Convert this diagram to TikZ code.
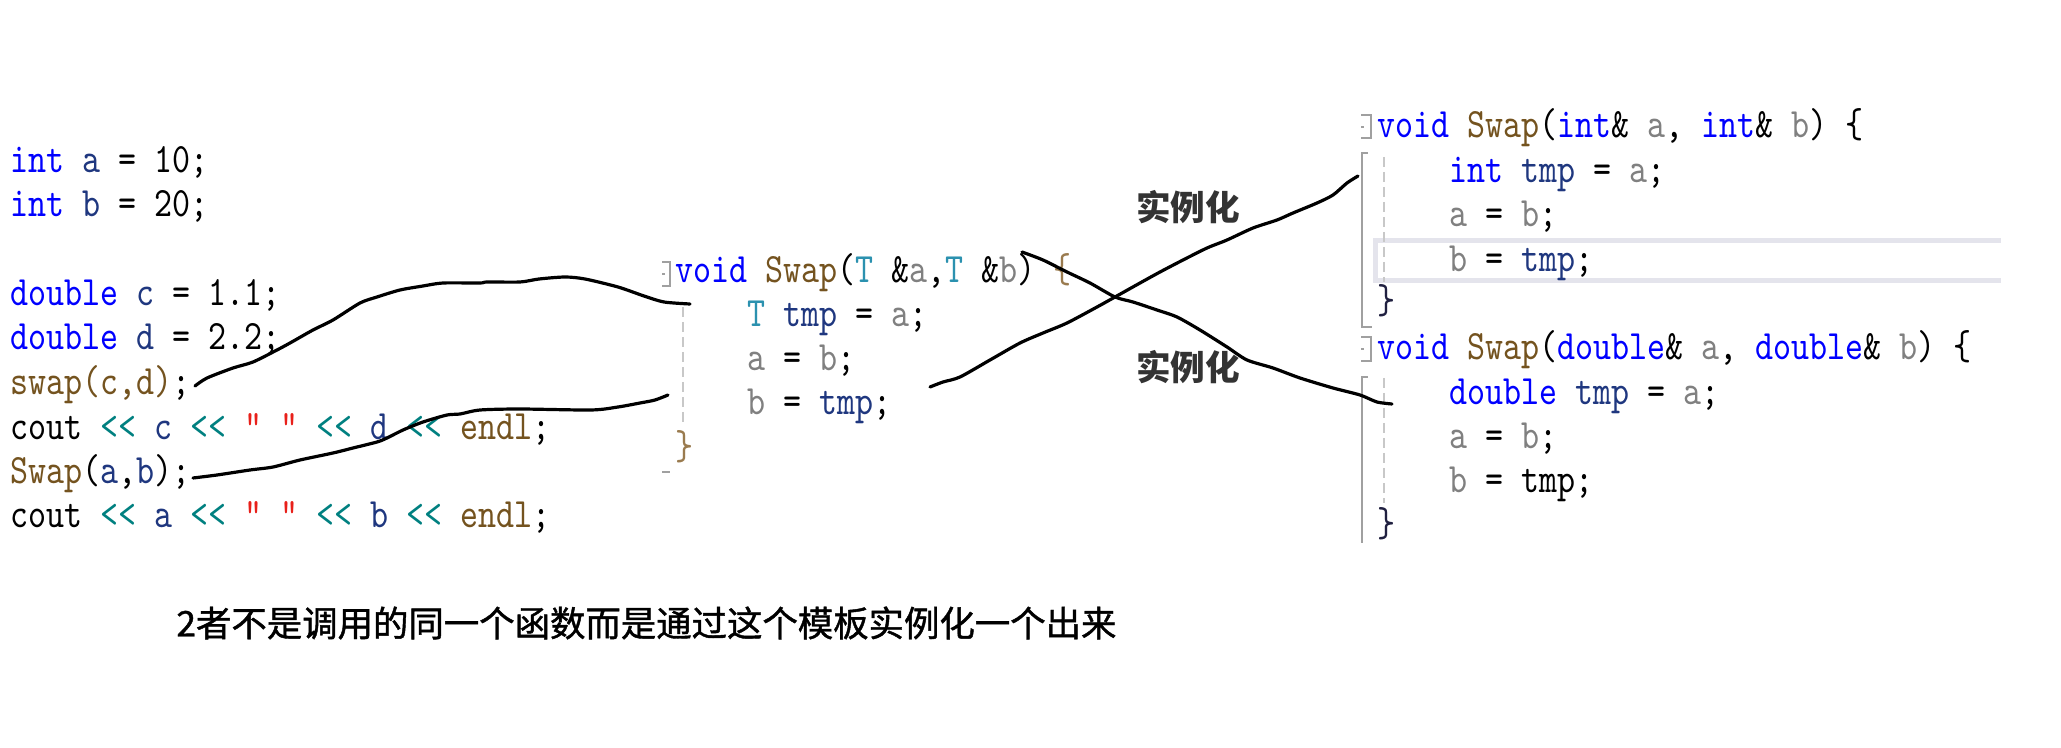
\documentclass[tikz,border=0pt]{standalone}
\usepackage{fontspec}
\newfontfamily\codefont{lmmono10-regular.otf}[FakeStretch=0.82]
\newfontfamily\cjkfont{Noto Sans CJK SC}
\newfontfamily\cjknote{Noto Sans CJK SC}[FakeBold=1.2]
\definecolor{kw}{HTML}{0000FF}
\definecolor{fn}{HTML}{74531F}
\definecolor{lv}{HTML}{1F377F}
\definecolor{pa}{HTML}{808080}
\definecolor{ty}{HTML}{2B91AF}
\definecolor{op}{HTML}{008080}
\definecolor{st}{HTML}{E8201A}
\definecolor{br}{HTML}{9A7B4F}
\definecolor{gut}{HTML}{A0A0A0}
\definecolor{guide}{HTML}{C8C8C8}
\definecolor{hl}{HTML}{E4E4EC}
\definecolor{lbl}{HTML}{333333}
\definecolor{cb}{HTML}{202040}
\newcommand{\ckw}[1]{\textcolor{kw}{#1}}
\newcommand{\cfn}[1]{\textcolor{fn}{#1}}
\newcommand{\clv}[1]{\textcolor{lv}{#1}}
\newcommand{\cpa}[1]{\textcolor{pa}{#1}}
\newcommand{\cty}[1]{\textcolor{ty}{#1}}
\newcommand{\cop}[1]{\textcolor{op}{#1}}
\newcommand{\cst}[1]{\textcolor{st}{#1}}
\newcommand{\cbr}[1]{\textcolor{br}{#1}}
\begin{document}
\begin{tikzpicture}[x=0.5pt,y=-0.5pt,
  code/.style={anchor=base west, inner sep=0pt, text=black,
    font={\codefont\fontsize{20.9pt}{24pt}\selectfont}},
  gutter/.style={draw=gut, line width=1pt},
  guideline/.style={draw=guide, line width=1pt, dash pattern=on 5pt off 2.5pt},
  stroke/.style={draw=black, line width=1.6pt, line cap=round, line join=round},
  inst/.style={inner sep=0pt, text=lbl, font={\cjkfont\bfseries\fontsize{17.3pt}{20pt}\selectfont}},
  note/.style={inner sep=0pt, anchor=west, text=black, font={\cjknote\fontsize{17.7pt}{20pt}\selectfont}}]
\useasboundingbox (0,0) rectangle (2061,748);

% ---------- left code ----------
\node[code] (l1) at (10,173) {\ckw{int} \clv{a} = 10;};
\node[code] (l2) at (10,217) {\ckw{int} \clv{b} = 20;};
\node[code] (l3) at (10,306) {\ckw{double} \clv{c} = 1.1;};
\node[code] (l4) at (10,350) {\ckw{double} \clv{d} = 2.2;};
\node[code] (l5) at (10,394) {\cfn{swap(c,d)};};
\node[code] (l6) at (10,439) {cout \cop{<{}<} \clv{c} \cop{<{}<} \cst{" "} \cop{<{}<} \clv{d} \cop{<{}<} \cfn{endl};};
\node[code] (l7) at (10,483) {\cfn{Swap}(\clv{a},\clv{b});};
\node[code] (l8) at (10,527) {cout \cop{<{}<} \clv{a} \cop{<{}<} \cst{" "} \cop{<{}<} \clv{b} \cop{<{}<} \cfn{endl};};

% ---------- template ----------
\draw[gutter] (662,262) -- (670,262) -- (670,286) -- (662,286);
\draw[gutter] (662,274) -- (665,274);
\draw[guideline] (683,307) -- (683,425);
\draw[gutter] (662,472) -- (670,472);
\node[code] (t1) at (675,283) {\ckw{void} \cfn{Swap}(\cty{T} \&\cpa{a},\cty{T} \&\cpa{b}) \cbr{\{}};
\node[code] (t2) at (747,327) {\cty{T} \clv{tmp} = \cpa{a};};
\node[code] (t3) at (747,371) {\cpa{a} = \cpa{b};};
\node[code] (t4) at (747,415) {\cpa{b} = \clv{tmp};};
\node[code] (t5) at (675,459) {\cbr{\}}};

% ---------- int instance ----------
\draw[draw=hl, line width=2.5pt] (2001,240.5) -- (1375.5,240.5) -- (1375.5,280.5) -- (2001,280.5);
\draw[gutter] (1361,115) -- (1371,115) -- (1371,138) -- (1361,138);
\draw[gutter] (1361,127) -- (1364,127);
\draw[gutter] (1368,153) -- (1362,153) -- (1362,327) -- (1372,327);
\draw[guideline] (1384,157) -- (1384,282);
\node[code] (i1) at (1377,138) {\ckw{void} \cfn{Swap}(\ckw{int}\& \cpa{a}, \ckw{int}\& \cpa{b}) \{};
\node[code] (i2) at (1449,183) {\ckw{int} \clv{tmp} = \cpa{a};};
\node[code] (i3) at (1449,227) {\cpa{a} = \cpa{b};};
\node[code] (i4) at (1449,272) {\cpa{b} = \clv{tmp};};
\node[code] (i5) at (1377,314) {\textcolor{cb}{\}}};

% ---------- double instance ----------
\draw[gutter] (1361,337) -- (1371,337) -- (1371,361) -- (1361,361);
\draw[gutter] (1361,349) -- (1364,349);
\draw[gutter] (1368,377) -- (1362,377) -- (1362,543);
\draw[guideline] (1384,378) -- (1384,503);
\node[code] (d1) at (1377,360) {\ckw{void} \cfn{Swap}(\ckw{double}\& \cpa{a}, \ckw{double}\& \cpa{b}) \{};
\node[code] (d2) at (1449,405) {\ckw{double} \clv{tmp} = \cpa{a};};
\node[code] (d3) at (1449,449) {\cpa{a} = \cpa{b};};
\node[code] (d4) at (1449,493) {\cpa{b} = tmp;};
\node[code] (d5) at (1377,536) {\textcolor{cb}{\}}};

% ---------- labels ----------
\node[inst] (lab1) at (1188,207) {实例化};
\node[inst] (lab2) at (1188,367) {实例化};
\node[note] (note) at (176,623) {2者不是调用的同一个函数而是通过这个模板实例化一个出来};

% ---------- hand-drawn strokes ----------
\coordinate (c1s) at (195,386);
\coordinate (c1e) at (690,304);
\coordinate (c2s) at (193,478);
\coordinate (c2e) at (668,395);
\coordinate (c3s) at (930,387);
\coordinate (c3e) at (1358,176);
\coordinate (c4s) at (1022,252);
\coordinate (c4e) at (1392,404);

\draw[stroke] plot[smooth, tension=0.45] coordinates {(c1s) (207,378) (233,368) (253,362) (277,350) (290,343) (313,330) (333,320) (360,303) (377,297) (400,290) (423,286) (443,283) (480,283) (487,282) (520,282) (539,279) (565,277) (585,279) (618,287) (644,296) (664,302) (c1e)};
\draw[stroke] plot[smooth, tension=0.45] coordinates {(c2s) (217,475) (250,470) (273,467) (300,460) (333,453) (353,448) (377,442) (387,438) (403,430) (423,422) (447,415) (460,414) (480,410) (520,409) (591,410) (618,407) (640,403) (655,400) (c2e)};
\draw[stroke] plot[smooth, tension=0.45] coordinates {(c3s) (943,382) (960,377) (990,360) (1020,343) (1043,333) (1067,323) (1097,307) (1115,297) (1140,283) (1160,272) (1183,260) (1207,248) (1227,240) (1253,228) (1277,220) (1293,213) (1317,203) (1333,195) (1347,183) (c3e)};
\draw[stroke] plot[smooth, tension=0.45] coordinates {(c4s) (1043,260) (1067,272) (1090,283) (1115,297) (1133,302) (1157,310) (1177,317) (1200,330) (1227,347) (1247,360) (1273,368) (1300,378) (1333,388) (1360,395) (1377,402) (c4e)};
\end{tikzpicture}
\end{document}
